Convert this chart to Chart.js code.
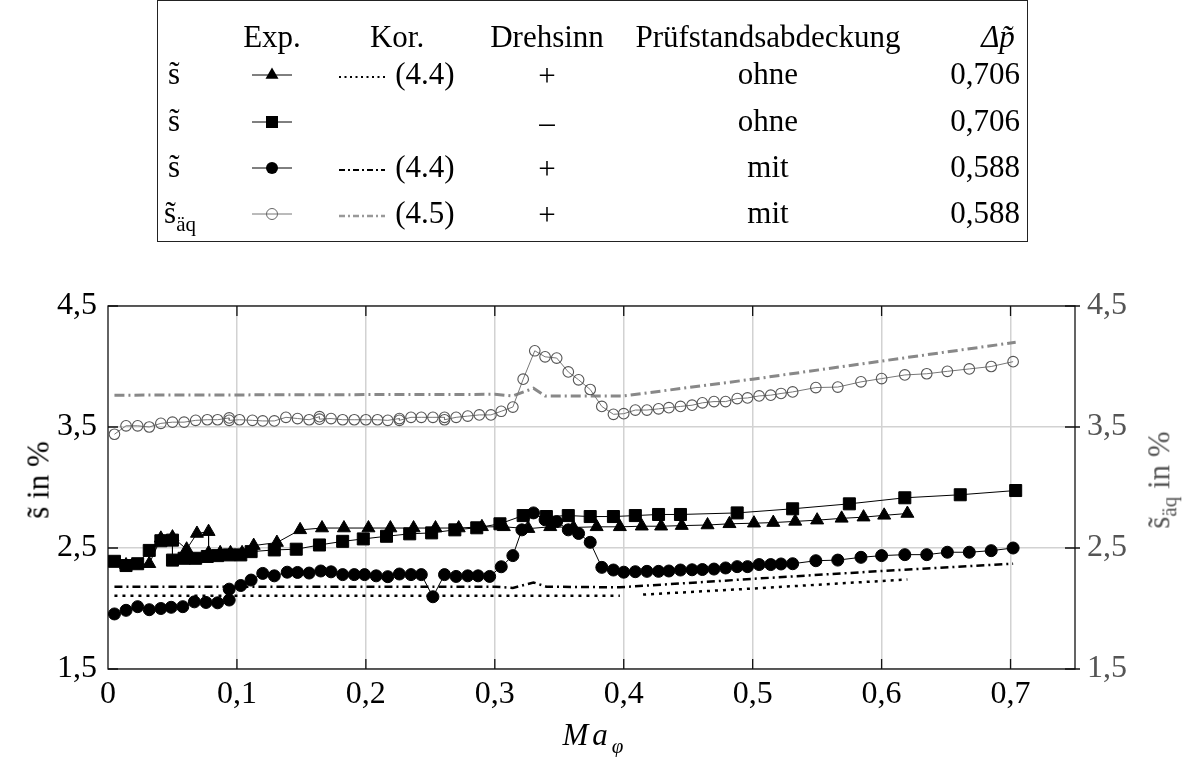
<!DOCTYPE html>
<html>
<head>
<meta charset="utf-8">
<script src="https://cdn.jsdelivr.net/npm/chart.js@4.4.1/dist/chart.umd.min.js"></script>
<style>
  body { margin: 0; background: #fff; font-family: "Liberation Serif", "DejaVu Serif", serif; }
  #wrap { position: relative; width: 1189px; height: 757px; overflow: hidden; }
  #chart { position: absolute; left: 0; top: 0; }
  .lab { position: absolute; transform: translate(-50%, -50%); white-space: nowrap; font-size: 31px; color: #000; line-height: 1; }
  .lab sub { font-size: 21px; vertical-align: -0.35em; }
  .rot { transform: translate(-50%, -50%) rotate(-90deg); }
  #key { position: absolute; left: 157px; top: 0; width: 871px; height: 242px; border: 1.5px solid #222; box-sizing: border-box; }
  .smp { position: absolute; transform: translate(-50%, -50%); }
</style>
</head>
<body>
<div id="wrap">
  <canvas id="chart" width="1189" height="757"></canvas>

  <div id="key"></div>
  <!-- header -->
  <div class="lab" style="left:272px;top:36px">Exp.</div>
  <div class="lab" style="left:397px;top:36px">Kor.</div>
  <div class="lab" style="left:547px;top:36px">Drehsinn</div>
  <div class="lab" style="left:768px;top:36px">Prüfstandsabdeckung</div>
  <div class="lab" style="left:998px;top:36px"><i>Δp̃</i></div>

  <!-- row 1 -->
  <div class="lab" style="left:174px;top:73px">s̃</div>
  <svg class="smp" style="left:272px;top:75px" width="40" height="20">
    <line x1="0" y1="10" x2="40" y2="10" stroke="#000" stroke-width="1"/>
    <polygon points="20,2.5 26.5,13.8 13.5,13.8" fill="#000"/>
  </svg>
  <svg class="smp" style="left:362px;top:77px" width="46" height="10">
    <line x1="0" y1="5" x2="46" y2="5" stroke="#000" stroke-width="2" stroke-dasharray="2 3.5"/>
  </svg>
  <div class="lab" style="left:425px;top:73px">(4.4)</div>
  <div class="lab" style="left:547px;top:75px">+</div>
  <div class="lab" style="left:768px;top:73px">ohne</div>
  <div class="lab" style="left:985px;top:73px">0,706</div>

  <!-- row 2 -->
  <div class="lab" style="left:174px;top:120px">s̃</div>
  <svg class="smp" style="left:272px;top:122px" width="40" height="20">
    <line x1="0" y1="10" x2="40" y2="10" stroke="#000" stroke-width="1"/>
    <rect x="14" y="4" width="12" height="12" fill="#000"/>
  </svg>
  <div class="lab" style="left:547px;top:122px">–</div>
  <div class="lab" style="left:768px;top:120px">ohne</div>
  <div class="lab" style="left:985px;top:120px">0,706</div>

  <!-- row 3 -->
  <div class="lab" style="left:174px;top:166px">s̃</div>
  <svg class="smp" style="left:272px;top:168px" width="40" height="20">
    <line x1="0" y1="10" x2="40" y2="10" stroke="#000" stroke-width="1"/>
    <circle cx="20" cy="10" r="6" fill="#000"/>
  </svg>
  <svg class="smp" style="left:362px;top:170px" width="46" height="10">
    <line x1="0" y1="5" x2="46" y2="5" stroke="#000" stroke-width="2" stroke-dasharray="6 3 2 3"/>
  </svg>
  <div class="lab" style="left:425px;top:166px">(4.4)</div>
  <div class="lab" style="left:547px;top:168px">+</div>
  <div class="lab" style="left:768px;top:166px">mit</div>
  <div class="lab" style="left:985px;top:166px">0,588</div>

  <!-- row 4 -->
  <div class="lab" style="left:180px;top:216px">s̃<sub>äq</sub></div>
  <svg class="smp" style="left:272px;top:214px" width="40" height="20">
    <line x1="0" y1="10" x2="40" y2="10" stroke="#777" stroke-width="1"/>
    <circle cx="20" cy="10" r="5.5" fill="none" stroke="#666" stroke-width="1"/>
  </svg>
  <svg class="smp" style="left:362px;top:216px" width="46" height="10">
    <line x1="0" y1="5" x2="46" y2="5" stroke="#999" stroke-width="2.5" stroke-dasharray="6 3 2 3"/>
  </svg>
  <div class="lab" style="left:425px;top:212px">(4.5)</div>
  <div class="lab" style="left:547px;top:214px">+</div>
  <div class="lab" style="left:768px;top:212px">mit</div>
  <div class="lab" style="left:985px;top:212px">0,588</div>

  <!-- axis titles -->
  <div class="lab rot" style="left:38px;top:480px">s̃ in %</div>
  <div class="lab rot" style="left:1162px;top:480px;color:#555">s̃<sub>äq</sub> in %</div>
  <div class="lab" style="left:593px;top:738px"><i style="letter-spacing:4px">Ma</i><sub><i>φ</i></sub></div>
</div>

<script>
// Ma_phi and slip (in %) per measurement series
// s~, Drehsinn +, ohne Abdeckung (triangles)
const maTri = [0.014, 0.032, 0.041, 0.050, 0.061, 0.069, 0.078, 0.078, 0.087, 0.095,
  0.104, 0.113, 0.131, 0.149, 0.166, 0.183, 0.202, 0.219, 0.237, 0.254,
  0.272, 0.290, 0.307, 0.326, 0.343, 0.361, 0.379, 0.397, 0.414, 0.429,
  0.445, 0.465, 0.482, 0.501, 0.516, 0.533, 0.550, 0.569, 0.586, 0.602, 0.620];
const sTri = [2.36, 2.37, 2.58, 2.59, 2.49, 2.62, 2.635, 2.46, 2.46, 2.46,
  2.46, 2.52, 2.545, 2.65, 2.665, 2.665, 2.665, 2.665, 2.665, 2.665,
  2.665, 2.675, 2.675, 2.66, 2.675, 2.67, 2.675, 2.675, 2.68, 2.68,
  2.685, 2.69, 2.70, 2.705, 2.71, 2.72, 2.73, 2.745, 2.755, 2.77, 2.785];

// s~, Drehsinn -, ohne Abdeckung (squares)
const maSq = [0.005, 0.014, 0.023, 0.032, 0.041, 0.050, 0.050, 0.059, 0.068, 0.077,
  0.085, 0.094, 0.103, 0.111, 0.129, 0.146, 0.164, 0.182, 0.198, 0.216,
  0.234, 0.251, 0.269, 0.286, 0.304, 0.322, 0.340, 0.357, 0.374, 0.392,
  0.409, 0.427, 0.444, 0.488, 0.531, 0.575, 0.618, 0.661, 0.704];
const sSq = [2.39, 2.355, 2.37, 2.48, 2.56, 2.565, 2.40, 2.415, 2.415, 2.43,
  2.437, 2.443, 2.443, 2.47, 2.484, 2.49, 2.525, 2.555, 2.575, 2.597,
  2.617, 2.625, 2.65, 2.667, 2.70, 2.768, 2.76, 2.768, 2.76, 2.76,
  2.768, 2.777, 2.777, 2.79, 2.824, 2.865, 2.915, 2.94, 2.975];

// s~, Drehsinn +, mit Abdeckung (filled circles)
const maCirc = [0.005, 0.014, 0.023, 0.032, 0.041, 0.049, 0.058, 0.067, 0.076, 0.085,
  0.094, 0.094, 0.103, 0.111, 0.120, 0.129, 0.139, 0.147, 0.156, 0.165,
  0.173, 0.182, 0.191, 0.199, 0.208, 0.217, 0.226, 0.235, 0.243, 0.252,
  0.261, 0.270, 0.279, 0.287, 0.296, 0.305, 0.314, 0.321, 0.330, 0.339,
  0.348, 0.357, 0.365, 0.374, 0.383, 0.392, 0.400, 0.409, 0.418, 0.427,
  0.435, 0.444, 0.453, 0.461, 0.470, 0.479, 0.488, 0.496, 0.505, 0.514,
  0.522, 0.531, 0.549, 0.566, 0.584, 0.600, 0.618, 0.635, 0.651, 0.668,
  0.685, 0.702];
const sCirc = [1.955, 1.985, 2.015, 1.99, 2.00, 2.01, 2.015, 2.055, 2.05, 2.047,
  2.07, 2.16, 2.19, 2.235, 2.29, 2.27, 2.30, 2.298, 2.293, 2.31,
  2.303, 2.28, 2.28, 2.28, 2.27, 2.263, 2.285, 2.28, 2.28, 2.097,
  2.28, 2.265, 2.27, 2.27, 2.265, 2.345, 2.437, 2.65, 2.79, 2.733,
  2.718, 2.65, 2.62, 2.547, 2.34, 2.318, 2.30, 2.304, 2.307, 2.307,
  2.31, 2.318, 2.32, 2.322, 2.326, 2.335, 2.346, 2.346, 2.363, 2.363,
  2.368, 2.37, 2.395, 2.40, 2.423, 2.437, 2.445, 2.445, 2.465, 2.465,
  2.478, 2.50];

// s~_aeq, Drehsinn +, mit Abdeckung (open circles, right axis)
const maAeq = [0.005, 0.014, 0.023, 0.032, 0.041, 0.050, 0.059, 0.068, 0.077, 0.085,
  0.094, 0.094, 0.102, 0.112, 0.120, 0.129, 0.138, 0.147, 0.156, 0.164,
  0.164, 0.173, 0.182, 0.191, 0.200, 0.209, 0.217, 0.226, 0.226, 0.235,
  0.243, 0.252, 0.261, 0.261, 0.270, 0.279, 0.288, 0.297, 0.305, 0.314,
  0.322, 0.331, 0.339, 0.348, 0.357, 0.365, 0.374, 0.383, 0.392, 0.400,
  0.409, 0.418, 0.427, 0.435, 0.444, 0.453, 0.461, 0.470, 0.479, 0.488,
  0.496, 0.505, 0.514, 0.522, 0.531, 0.549, 0.566, 0.584, 0.600, 0.618,
  0.635, 0.651, 0.668, 0.685, 0.702];
const sAeq = [3.44, 3.51, 3.51, 3.50, 3.53, 3.54, 3.54, 3.555, 3.56, 3.56,
  3.575, 3.555, 3.56, 3.555, 3.55, 3.55, 3.58, 3.57, 3.56, 3.585,
  3.565, 3.57, 3.56, 3.56, 3.56, 3.56, 3.555, 3.57, 3.555, 3.58,
  3.58, 3.58, 3.58, 3.56, 3.58, 3.59, 3.60, 3.60, 3.63, 3.665,
  3.895, 4.13, 4.08, 4.07, 3.955, 3.89, 3.81, 3.67, 3.605, 3.61,
  3.64, 3.64, 3.65, 3.66, 3.67, 3.68, 3.70, 3.71, 3.71, 3.735,
  3.74, 3.757, 3.763, 3.777, 3.79, 3.826, 3.83, 3.873, 3.90, 3.93,
  3.94, 3.96, 3.98, 4.00, 4.04];

// correlation (4.4), ohne Abdeckung -- gap between the two runs
const maKorOhne = [0.005, 0.397, 0.406, 0.415, 0.500, 0.620];
const sKorOhne = [2.105, 2.105, null, 2.115, 2.165, 2.24];

// correlation (4.4), mit Abdeckung
const maKorMit = [0.005, 0.300, 0.314, 0.330, 0.340, 0.397, 0.500, 0.600, 0.702];
const sKorMit = [2.18, 2.18, 2.17, 2.215, 2.18, 2.175, 2.245, 2.31, 2.37];

// correlation (4.5), s~_aeq mit Abdeckung
const maKorAeq = [0.005, 0.300, 0.314, 0.330, 0.339, 0.400, 0.500, 0.600, 0.704];
const sKorAeq = [3.763, 3.77, 3.757, 3.82, 3.757, 3.757, 3.895, 4.045, 4.20];

const xTicks = [0, 0.1, 0.2, 0.3, 0.4, 0.5, 0.6, 0.7];
const yTicks = [1.5, 2.5, 3.5, 4.5];

const FONT = { family: '"Liberation Serif", serif', size: 32 };

function pts(xs, ys) {
  return xs.map((x, i) => ({ x: x, y: ys[i] }));
}

function fmt(v) {
  if (v === 0) return '0';
  return v.toFixed(1).replace('.', ',');
}

// box around the plot plus the small inward ticks
const frame = {
  id: 'frame',
  beforeDatasetsDraw(chart) {
    const { ctx, chartArea: a, scales } = chart;
    ctx.save();
    ctx.strokeStyle = '#111';
    ctx.lineWidth = 1.3;
    ctx.strokeRect(a.left, a.top, a.right - a.left, a.bottom - a.top);
    ctx.beginPath();
    xTicks.forEach(v => {
      if (v === 0) return;
      const px = scales.x.getPixelForValue(v);
      ctx.moveTo(px, a.bottom); ctx.lineTo(px, a.bottom - 10);
      ctx.moveTo(px, a.top); ctx.lineTo(px, a.top + 10);
    });
    yTicks.forEach(v => {
      const py = scales.y.getPixelForValue(v);
      ctx.moveTo(a.left, py); ctx.lineTo(a.left + 10, py);
      ctx.moveTo(a.right - 10, py); ctx.lineTo(a.right + 5, py);
    });
    ctx.stroke();
    ctx.restore();
  }
};

const ctx = document.getElementById('chart').getContext('2d');
new Chart(ctx, {
  type: 'scatter',
  data: {
    datasets: [
      {
        data: pts(maTri, sTri), showLine: true,
        borderColor: '#000', borderWidth: 1,
        pointStyle: 'triangle', pointRadius: 7.5,
        pointBackgroundColor: '#000', pointBorderColor: '#000', pointBorderWidth: 1
      },
      {
        data: pts(maSq, sSq), showLine: true,
        borderColor: '#000', borderWidth: 1,
        pointStyle: 'rect', pointRadius: 8.5,
        pointBackgroundColor: '#000', pointBorderColor: '#000', pointBorderWidth: 1
      },
      {
        data: pts(maCirc, sCirc), showLine: true,
        borderColor: '#000', borderWidth: 1,
        pointStyle: 'circle', pointRadius: 6,
        pointBackgroundColor: '#000', pointBorderColor: '#000', pointBorderWidth: 1
      },
      {
        data: pts(maAeq, sAeq), showLine: true, yAxisID: 'y2',
        borderColor: '#777', borderWidth: 1,
        pointStyle: 'circle', pointRadius: 5.3,
        pointBackgroundColor: 'rgba(0,0,0,0)', pointBorderColor: '#555', pointBorderWidth: 1.1
      },
      {
        data: pts(maKorOhne, sKorOhne), showLine: true, spanGaps: false,
        borderColor: '#000', borderWidth: 2.5, borderDash: [3, 5],
        pointRadius: 0
      },
      {
        data: pts(maKorMit, sKorMit), showLine: true,
        borderColor: '#000', borderWidth: 2.5, borderDash: [8, 4, 2, 4],
        pointRadius: 0
      },
      {
        data: pts(maKorAeq, sKorAeq), showLine: true, yAxisID: 'y2',
        borderColor: '#888', borderWidth: 3, borderDash: [10, 4, 2, 4],
        pointRadius: 0
      }
    ]
  },
  options: {
    responsive: false,
    animation: false,
    layout: { padding: { top: 306, left: 0, right: 0, bottom: 0 } },
    elements: { line: { tension: 0 } },
    plugins: { legend: { display: false }, tooltip: { enabled: false } },
    scales: {
      x: {
        type: 'linear', min: 0, max: 0.75,
        afterFit: s => { s.height = 88; },
        afterBuildTicks: s => { s.ticks = xTicks.map(v => ({ value: v })); },
        border: { display: false },
        grid: {
          drawTicks: false, lineWidth: 1.5,
          color: c => (c.tick && c.tick.value === 0) ? 'rgba(0,0,0,0)' : '#d2d2d2'
        },
        ticks: { font: FONT, color: '#000', padding: 6, maxRotation: 0, autoSkip: false, callback: v => fmt(v) }
      },
      y: {
        type: 'linear', min: 1.5, max: 4.5, position: 'left',
        afterFit: s => { s.width = 108; },
        afterBuildTicks: s => { s.ticks = yTicks.map(v => ({ value: v })); },
        border: { display: false },
        grid: { drawTicks: false, lineWidth: 1.5, color: '#d2d2d2' },
        ticks: { font: FONT, color: '#000', padding: 11, callback: v => fmt(v) }
      },
      y2: {
        type: 'linear', min: 1.5, max: 4.5, position: 'right',
        afterFit: s => { s.width = 114; },
        afterBuildTicks: s => { s.ticks = yTicks.map(v => ({ value: v })); },
        border: { display: false },
        grid: { display: false, drawTicks: false },
        ticks: { font: FONT, color: '#555', padding: 12, callback: v => fmt(v) }
      }
    }
  },
  plugins: [frame]
});
</script>
</body>
</html>
